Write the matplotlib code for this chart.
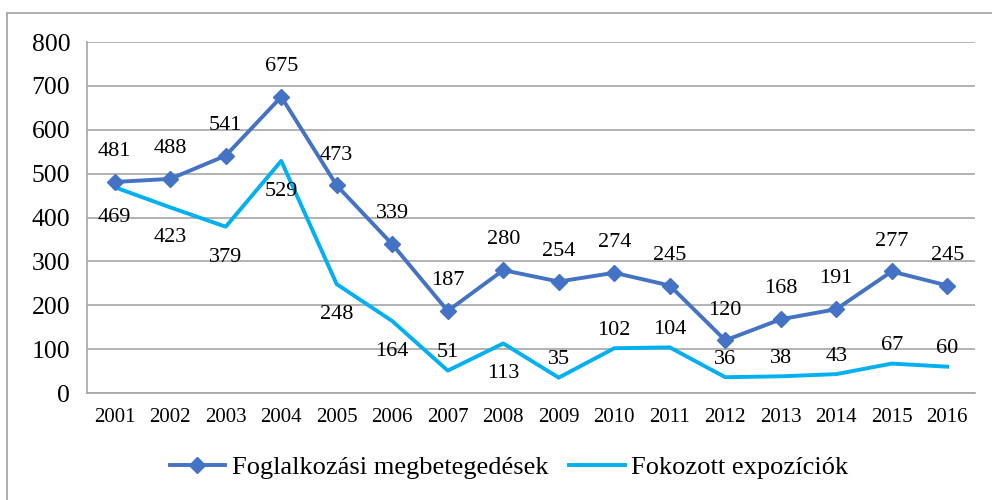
import matplotlib.pyplot as plt
from matplotlib.patches import Rectangle

years = ["2001", "2002", "2003", "2004", "2005", "2006", "2007", "2008",
         "2009", "2010", "2011", "2012", "2013", "2014", "2015", "2016"]
megbeteg = [481, 488, 541, 675, 473, 339, 187, 280, 254, 274, 245, 120, 168, 191, 277, 245]
expozicio = [469, 423, 379, 529, 248, 164, 51, 113, 35, 102, 104, 36, 38, 43, 67, 60]
# label side for the second series: -1 below, +1 above
exp_side = [-1, -1, -1, -1, -1, -1, 1, -1, 1, 1, 1, 1, 1, 1, 1, 1]

plt.rcParams["font.family"] = ["Liberation Serif", "DejaVu Serif"]

c1 = "#4472C4"
c2 = "#00B0F0"
grid_c = "#A6A6A6"

fig = plt.figure(figsize=(9.92, 5.0), dpi=100)
fig.patches.append(Rectangle((7 / 992, -0.1), 1.2, (500 - 13) / 500 + 0.1,
                             transform=fig.transFigure, fill=False,
                             edgecolor="#A0A0A0", linewidth=1.2))

ax = fig.add_axes([87 / 992, 107 / 500, 888 / 992, 351 / 500])
x = list(range(len(years)))

ax.plot(x, megbeteg, color=c1, linewidth=2.8, marker="D", markersize=8,
        label="Foglalkozási megbetegedések", zorder=3)
ax.plot(x, expozicio, color=c2, linewidth=2.8, label="Fokozott expozíciók", zorder=2)

for i, v in enumerate(megbeteg):
    ax.annotate(str(v), (i, v), xytext=(0, 15), textcoords="offset points",
                ha="center", va="bottom", fontsize=16)
for i, v in enumerate(expozicio):
    if exp_side[i] > 0:
        ax.annotate(str(v), (i, v), xytext=(0, 6), textcoords="offset points",
                    ha="center", va="bottom", fontsize=16)
    else:
        ax.annotate(str(v), (i, v), xytext=(0, -15), textcoords="offset points",
                    ha="center", va="top", fontsize=16)

ax.set_xlim(-0.5, len(years) - 0.5)
ax.set_ylim(0, 800)
ax.set_yticks(range(0, 801, 100))
ax.set_xticks(x)
ax.set_xticklabels(years)
ax.tick_params(axis="y", labelsize=18.5, length=0, pad=12)
ax.tick_params(axis="x", labelsize=15, length=0, pad=11)
ax.yaxis.grid(True, color=grid_c, linewidth=1.2)
ax.set_axisbelow(True)
for s in ["top", "right"]:
    ax.spines[s].set_visible(False)
ax.spines["left"].set_color(grid_c)
ax.spines["left"].set_linewidth(1.2)
ax.spines["bottom"].set_color(grid_c)
ax.spines["bottom"].set_linewidth(1.2)

fig.legend(loc="center", bbox_to_anchor=(509 / 992, (500 - 467) / 500), ncol=2,
           frameon=False, fontsize=19, handlelength=2.1, columnspacing=0.8,
           handletextpad=0.25)

fig.savefig("out.png", dpi=100)
